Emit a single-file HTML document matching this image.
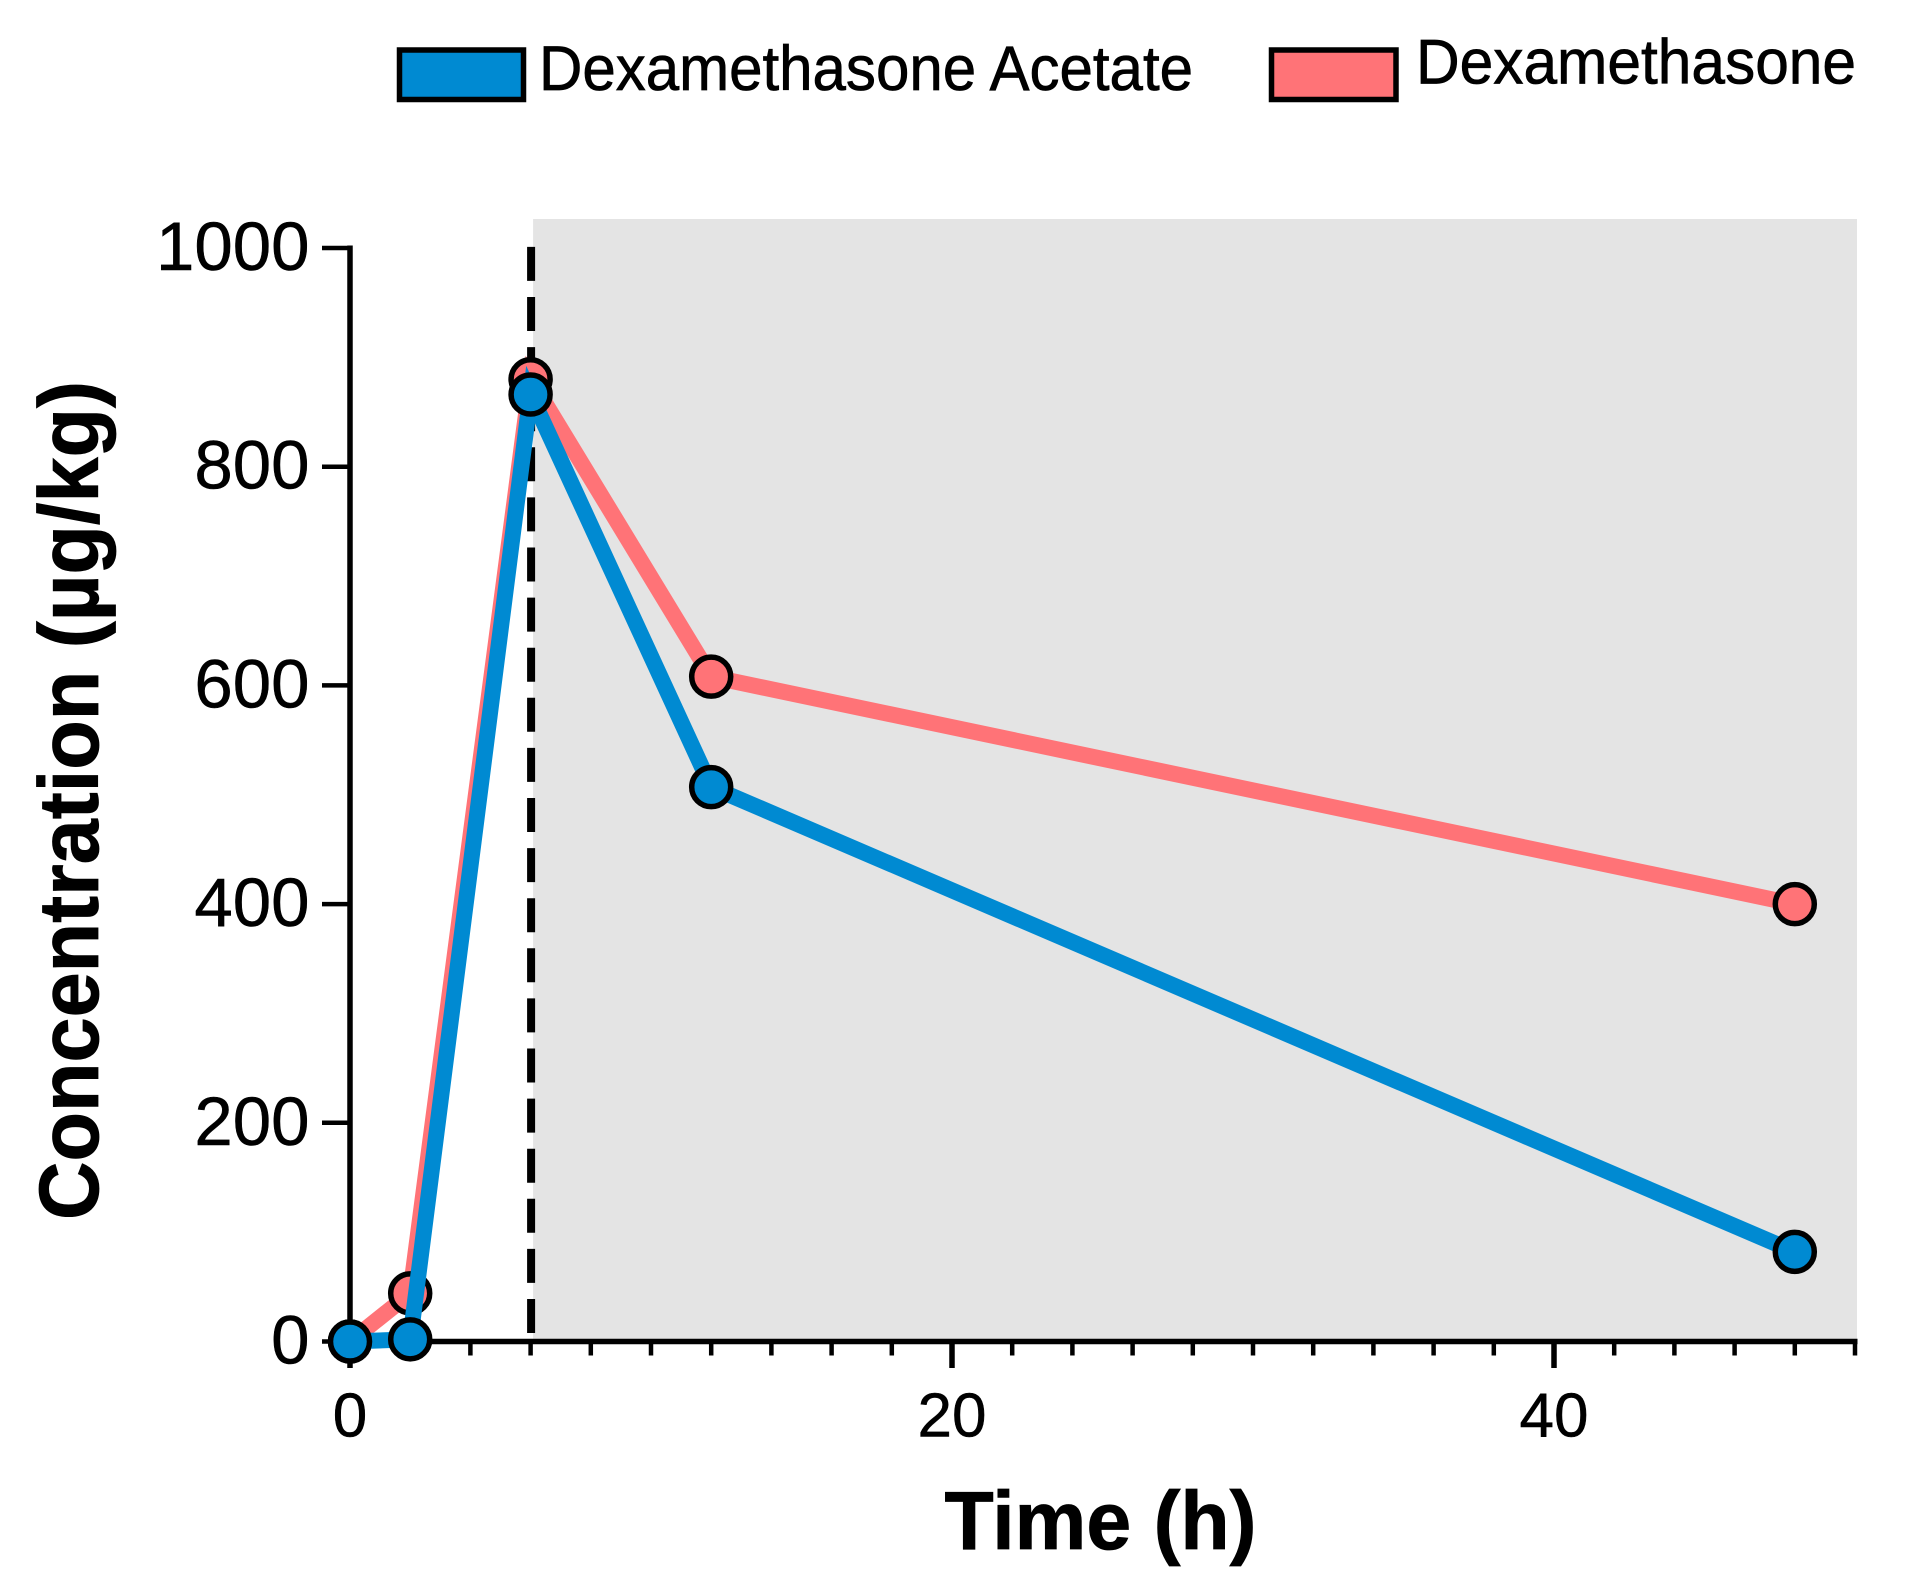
<!DOCTYPE html>
<html lang="en">
<head>
<meta charset="utf-8">
<title>Concentration over time</title>
<style>
html,body{margin:0;padding:0;background:#fff;}
svg{display:block;font-family:"Liberation Sans",Arial,sans-serif;}
</style>
</head>
<body>
<svg id="chart" xmlns="http://www.w3.org/2000/svg" width="1913" height="1586" viewBox="0 0 1913 1586">
  <rect x="0" y="0" width="1913" height="1586" fill="#ffffff"/>
  <rect x="399.5" y="50" width="124" height="49.5" fill="#008ad2" stroke="#000" stroke-width="5.5"/>
  <text x="539" y="90" font-size="63" textLength="654" lengthAdjust="spacingAndGlyphs" fill="#000" stroke="#000" stroke-width="0.7">Dexamethasone Acetate</text>
  <rect x="1271.5" y="50" width="124.5" height="49.5" fill="#ff7377" stroke="#000" stroke-width="5.5"/>
  <text x="1416" y="83.5" font-size="63" textLength="440" lengthAdjust="spacingAndGlyphs" fill="#000" stroke="#000" stroke-width="0.7">Dexamethasone</text>
  <text transform="translate(98,800.5) rotate(-90)" text-anchor="middle" font-size="84" font-weight="bold" textLength="839" lengthAdjust="spacingAndGlyphs" fill="#000" stroke="#000" stroke-width="0.8">Concentration (µg/kg)</text>
  <text x="1100.5" y="1549" text-anchor="middle" font-size="83" font-weight="bold" textLength="312" lengthAdjust="spacingAndGlyphs" fill="#000" stroke="#000" stroke-width="0.8">Time (h)</text>
  <g id="plot"></g>
</svg>
<script>
const timePoints = [0, 2, 6, 12, 48];
const acetateValues = [0, 2, 866, 507, 82];
const dexamethasoneValues = [0, 44, 880, 608, 400];
const xMajorTicks = [0, 20, 40];
const xAllTicks = [0, 2, 4, 6, 8, 10, 12, 14, 16, 18, 20, 22, 24, 26, 28, 30, 32, 34, 36, 38, 40, 42, 44, 46, 48, 50];
const yTicks = [0, 200, 400, 600, 800, 1000];
const eliminationStart = 6;
const xDomainMax = 50;
const yDomainMax = 1000;

const NS = 'http://www.w3.org/2000/svg';
const plot = document.getElementById('plot');
const X0 = 350, X1 = 1855, Y0 = 1341.5, Y1 = 248;
function xScale(v) { return X0 + (X1 - X0) * v / xDomainMax; }
function yScale(v) { return Y0 - (Y0 - Y1) * v / yDomainMax; }
function make(tag, attrs) {
  const el = document.createElementNS(NS, tag);
  for (const k in attrs) el.setAttribute(k, attrs[k]);
  plot.appendChild(el);
  return el;
}

const band = make('rect', { x: xScale(eliminationStart) + 2.5, y: 219, width: 1857 - xScale(eliminationStart) - 2.5, height: Y0 - 219, fill: '#e4e4e4' });



const dashed = make('line', { x1: xScale(eliminationStart) + 0.5, y1: 1333, x2: xScale(eliminationStart) + 0.5, y2: Y1 - 2, stroke: '#000', 'stroke-width': 8, 'stroke-dasharray': '34 16.1' });



const yAxis = make('line', { x1: X0, y1: Y1 - 2.5, x2: X0, y2: Y0 + 2.5, stroke: '#000', 'stroke-width': 5.5 });



const xAxis = make('line', { x1: X0 - 2.5, y1: Y0, x2: X1 + 2.5, y2: Y0, stroke: '#000', 'stroke-width': 5.5 });



yTicks.forEach(function (t) {
  const tick = make('line', { x1: 322, y1: yScale(t), x2: X0, y2: yScale(t), stroke: '#000', 'stroke-width': 4.5 });
  
  
  const label = make('text', { x: 309.5, y: yScale(t) + 22, 'text-anchor': 'end', 'font-size': 69, fill: '#000', stroke: '#000', 'stroke-width': 0.5 });
  
  
  label.textContent = String(t);
});

xAllTicks.forEach(function (t) {
  const major = xMajorTicks.indexOf(t) >= 0;
  const tick = make('line', { x1: xScale(t), y1: Y0, x2: xScale(t), y2: major ? 1368 : 1355.5, stroke: '#000', 'stroke-width': major ? 5.5 : 4.5 });
  
  
});

xMajorTicks.forEach(function (t) {
  const label = make('text', { x: xScale(t), y: 1436.5, 'text-anchor': 'middle', 'font-size': 62, fill: '#000', stroke: '#000', 'stroke-width': 0.5 });
  
  
  label.textContent = String(t);
});

function drawSeries(values, color, lineName, pointName) {
  const pts = timePoints.map(function (t, i) { return xScale(t) + ',' + yScale(values[i]); }).join(' ');
  const line = make('polyline', { points: pts, fill: 'none', stroke: color, 'stroke-width': 16, 'stroke-linejoin': 'miter' });
  
  
  timePoints.forEach(function (t, i) {
    const dot = make('circle', { cx: xScale(t), cy: yScale(values[i]), r: 19.5, fill: color, stroke: '#000', 'stroke-width': 5.5 });
    
    
  });
}
drawSeries(dexamethasoneValues, '#ff7377', 'dexamethasone-line', 'dexamethasone-point');
drawSeries(acetateValues, '#008ad2', 'dexamethasone-acetate-line', 'dexamethasone-acetate-point');
</script>
</body>
</html>
